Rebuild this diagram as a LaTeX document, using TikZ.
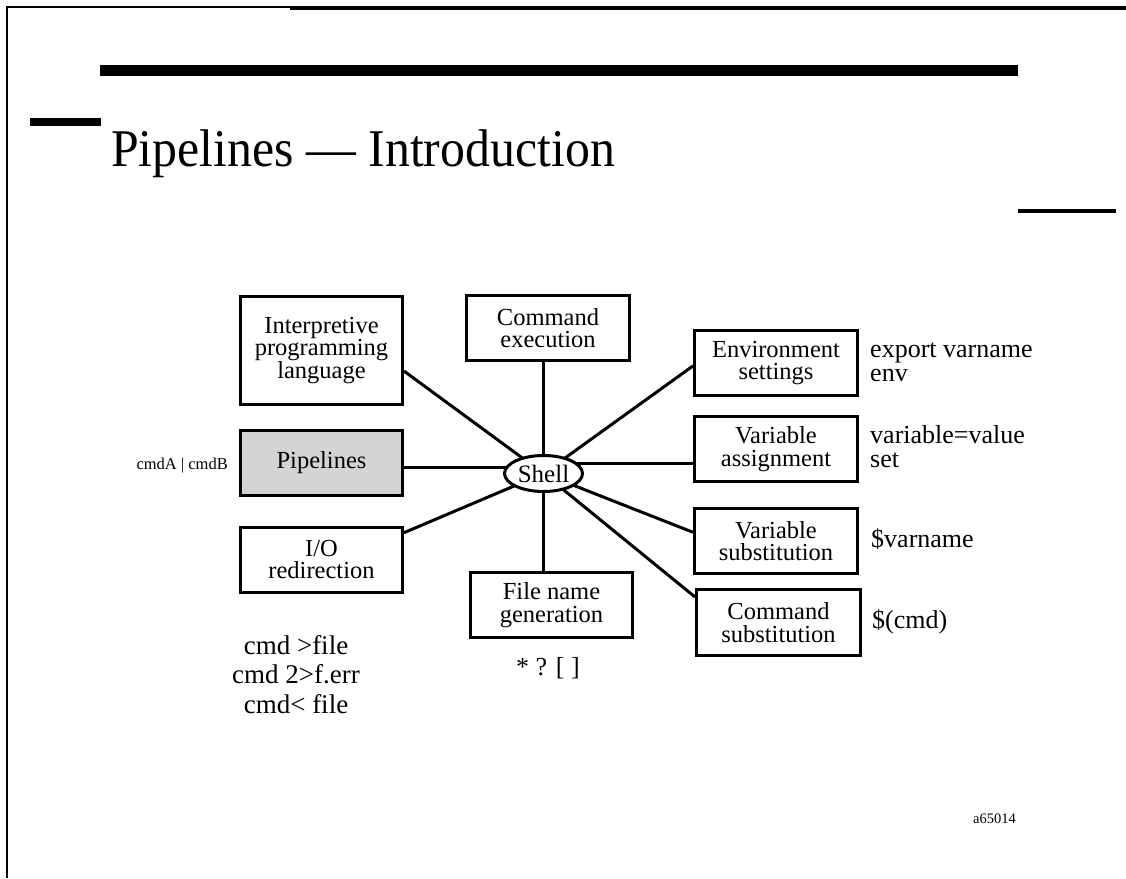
\documentclass[tikz,border=0pt]{standalone}
\usepackage{fontspec}
\setmainfont{Liberation Serif}
\usetikzlibrary{shapes.geometric}
\pgfdeclarelayer{links}
\pgfsetlayers{links,main}
\begin{document}
\begin{tikzpicture}[x=1pt,y=-1pt,
  box/.style={draw,line width=3pt,minimum width=162pt,minimum height=65pt,
    inner sep=0pt,align=center,font=\fontsize{24.5}{22.5}\selectfont},
  link/.style={line width=3pt},
  note/.style={inner sep=0pt,font=\fontsize{26}{24}\selectfont}]
\useasboundingbox (0,0) rectangle (1126,878);

% page frame and rules
\fill (7,5.5) rectangle (290,7.5);
\fill (290,5.5) rectangle (1126,9.5);
\fill (6,5.5) rectangle (8,878);
\fill (100,65) rectangle (1018,76);
\fill (30,118) rectangle (101,126);
\fill (1018,209) rectangle (1116,213);

% heading
\node[anchor=base west,inner sep=0pt] (title) at (111,166)
  {\scalebox{0.94}[1]{\fontsize{53}{53}\selectfont Pipelines — Introduction}};

% shell features
\node[box,minimum height=108pt] (interp) at (321.5,350.5) {Interpretive\\programming\\language};
\node[box,fill=black!17] (pipe) at (321.5,463) {Pipelines};
\node[box] (io) at (321.5,559.5) {I/O\\redirection};
\node[box,minimum width=163pt] (cmdexec) at (548,328) {Command\\execution};
\node[box] (fname) at (551.5,605) {File name\\generation};
\node[box,minimum width=163pt] (env) at (776,363) {Environment\\settings};
\node[box,minimum width=163pt] (vassign) at (776,449) {Variable\\assignment};
\node[box,minimum width=163pt] (vsubst) at (776,541) {Variable\\substitution};
\node[box,minimum width=164pt,minimum height=66pt] (csubst) at (778.5,622.5) {Command\\substitution};
\node[draw,fill=white,ellipse,line width=3pt,minimum width=78pt,minimum height=36pt,
  inner sep=0pt,font=\fontsize{25}{25}\selectfont] (shell) at (543.5,473.5) {Shell};

% spokes from the shell to each feature
\begin{pgfonlayer}{links}
\draw[link] (interp.-14.6) -- (shell.center);
\draw[link] (pipe.-3.5) -- (pipe.-3.5 -| shell.center);
\draw[link] (io.18.4) -- (shell.center);
\draw[link] (shell.center |- cmdexec.south) -- (shell.center);
\draw[link] (shell.center) -- (shell.center |- fname.north);
\draw[link] (env.182.8) -- (shell.center);
\draw[link] (vassign.190.2) -- (vassign.190.2 -| shell.center);
\draw[link] (vsubst.174.5) -- (shell.center);
\draw[link] (csubst.163) -- (shell.center);
\end{pgfonlayer}

% examples
\node[note,anchor=base east,font=\fontsize{16.5}{16.5}\selectfont] (pipenote) at (228,469) {cmdA | cmdB};
\node[note,anchor=base west,align=left] (envnote) at (870,381) {export varname\\env};
\node[note,anchor=base west,align=left] (vassignnote) at (870,467) {variable=value\\set};
\node[note,anchor=base west] (vsubstnote) at (871,547) {\$varname};
\node[note,anchor=base west] (csubstnote) at (872,628) {\$(cmd)};
\node[note,anchor=base] (fnamenote) at (548,675) {* ? [ ]};
\node[note,anchor=base,align=center,font=\fontsize{27}{29.5}\selectfont] (ionote) at (296,713)
  {cmd >file\\cmd 2>f.err\\cmd< file};
\node[anchor=base west,inner sep=0pt,font=\fontsize{14.5}{14.5}\selectfont] (figid) at (973,823) {a65014};
\end{tikzpicture}
\end{document}
